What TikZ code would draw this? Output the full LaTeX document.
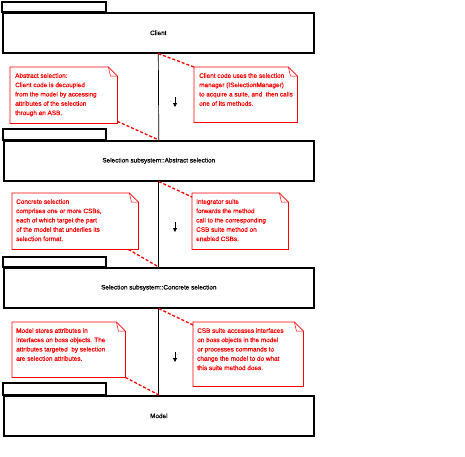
\documentclass[tikz,border=0pt]{standalone}
\usepackage{fontspec}
\setmainfont{Liberation Sans}
\newfontfamily\diagfont{Liberation Sans}[FakeBold=0.6]
\usetikzlibrary{arrows.meta}
\tikzset{
  x=1pt, y=-1pt,
  pkgbox/.style={draw=black, line width=1.6pt, inner sep=0pt, anchor=north west,
    font=\diagfont\fontsize{6.4}{8}\selectfont},
  pkgtab/.style={draw=black, line width=1.6pt},
  notebox/.style={inner sep=0pt, anchor=north west},
  notedraw/.style={draw=red, line width=0.8pt, line join=miter},
  notetext/.style={inner sep=0pt, anchor=north west, align=left, text=red,
    font=\diagfont\fontsize{6.4}{9.3}\selectfont},
  link/.style={draw=red, line width=1.3pt, dash pattern=on 3pt off 2pt},
  life/.style={draw=black, line width=0.7pt},
  flow/.style={draw=black, line width=0.8pt, -{Triangle[width=4pt,length=4pt]}},
}
\newcommand{\notefold}[1]{%
  \draw[notedraw] (#1.north west) -- ([xshift=-9pt]#1.north east)
    -- ([yshift=-9pt]#1.north east) -- (#1.south east) -- (#1.south west) -- cycle;
  \draw[notedraw, line width=0.5pt] ([xshift=-9pt]#1.north east)
    -- ([xshift=-7pt,yshift=-9pt]#1.north east) -- ([yshift=-9pt]#1.north east);
}
\begin{document}
\begin{tikzpicture}
\useasboundingbox (0,0) rectangle (465,456);

% packages
\draw[pkgtab] (2,2) rectangle (106,12);
\node[pkgbox, minimum width=311pt, minimum height=40pt] (client) at (2,12) {Client};
\draw[pkgtab] (3,129) rectangle (106,140);
\node[pkgbox, minimum width=310pt, minimum height=40pt] (abs) at (3,140) {Selection subsystem::Abstract selection};
\draw[pkgtab] (3,257) rectangle (106,267);
\node[pkgbox, minimum width=310pt, minimum height=40pt] (con) at (3,267) {Selection subsystem::Concrete selection};
\draw[pkgtab] (3,383) rectangle (106,395);
\node[pkgbox, minimum width=310pt, minimum height=40pt] (model) at (3,395) {Model};

% lifeline connectors
\draw[life] (client.south) -- (abs.north);
\draw[life] (abs.south) -- (con.north);
\draw[life] (con.south) -- (model.north);

% small arrows
\coordinate (a1s) at (175,97); \coordinate (a1e) at (175,107);
\coordinate (a2s) at (175,222); \coordinate (a2e) at (175,232);
\coordinate (a3s) at (175,352); \coordinate (a3e) at (175,362);
\draw[flow] (a1s) -- (a1e);
\draw[flow] (a2s) -- (a2e);
\draw[flow] (a3s) -- (a3e);

% notes
\node[notebox, minimum width=107pt, minimum height=56pt] (n1) at (10,67) {};
\node[notebox, minimum width=103pt, minimum height=55pt] (n2) at (194,67) {};
\node[notebox, minimum width=126pt, minimum height=56pt] (n3) at (12,193) {};
\node[notebox, minimum width=96pt, minimum height=56pt] (n4) at (192,193) {};
\node[notebox, minimum width=113pt, minimum height=55pt] (n5) at (12,322) {};
\node[notebox, minimum width=110pt, minimum height=64pt] (n6) at (193,322) {};
\notefold{n1}\notefold{n2}\notefold{n3}\notefold{n4}\notefold{n5}\notefold{n6}

\node[notetext] (t1) at ([xshift=5pt,yshift=-6pt]n1.north west) {Abstract selection:\\Client code is decoupled\\from the model by accessing\\attributes of the selection\\through an ASB.};
\node[notetext] (t2) at ([xshift=5pt,yshift=-6pt]n2.north west) {Client code uses the selection\\manager (ISelectionManager)\\to acquire a suite, and\ \ then calls\\one of its methods.};
\node[notetext] (t3) at ([xshift=4pt,yshift=-6pt]n3.north west) {Concrete selection\\comprises one or more CSBs,\\each of which target the part\\of the model that underlies its\\selection format.};
\node[notetext] (t4) at ([xshift=4pt,yshift=-6pt]n4.north west) {Integrator suite\\forwards the method\\call to the corresponding\\CSB suite method on\\enabled CSBs.};
\node[notetext] (t5) at ([xshift=4pt,yshift=-6pt]n5.north west) {Model stores attributes in\\interfaces on boss objects. The\\attributes targeted\ \ by selection\\are selection attributes.};
\node[notetext] (t6) at ([xshift=4pt,yshift=-6pt]n6.north west) {CSB suite accesses interfaces\\on boss objects in the model\\or processes commands to\\change the model to do what\\this suite method does.};

% dashed anchors
\draw[link] ([yshift=2pt]n1.south east) -- (abs.north);
\draw[link] (client.south) -- (n2.north west);
\draw[link] ([xshift=-10pt]n3.south east) -- (con.north);
\draw[link] (abs.south) -- ([yshift=-4pt]n4.north west);
\draw[link] (n5.south east) -- (model.north);
\draw[link] (con.south) -- ([yshift=-3pt]n6.north west);
\end{tikzpicture}
\end{document}
